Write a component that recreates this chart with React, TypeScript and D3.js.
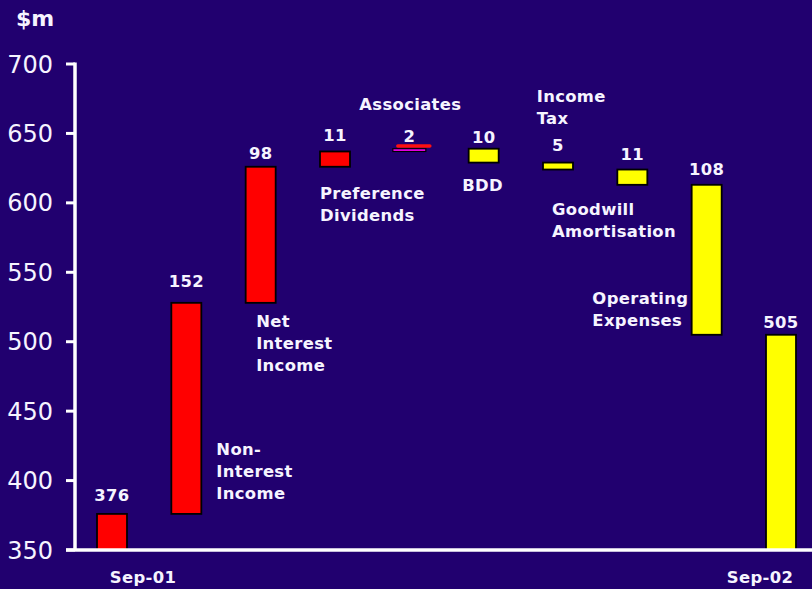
import React from "react";
import * as d3 from "d3";

const categories = [
  "Sep-01",
  "Non-Interest Income",
  "Net Interest Income",
  "Preference Dividends",
  "Associates",
  "BDD",
  "Income Tax",
  "Goodwill Amortisation",
  "Operating Expenses",
  "Sep-02",
];
// first and last are totals, the rest are signed changes
const changes = [376, 152, 98, 11, 2, -10, -5, -11, -108, 505];
const isTotal = [true, false, false, false, false, false, false, false, false, true];
const valueLabels = ["376", "152", "98", "11", "2", "10", "5", "11", "108", "505"];
const barColors = ["#ff0000", "#ff0000", "#ff0000", "#ff0000", "#ff00ff", "#ffff00", "#ffff00", "#ffff00", "#ffff00", "#ffff00"];
const yTicks = [350, 400, 450, 500, 550, 600, 650, 700];
const xTickLabels = ["Sep-01", "Sep-02"];

// annotation layout: category anchor, text lines, offset in px, baseline in data units
const annotations = [
  { cat: "Non-Interest Income", lines: ["Non-", "Interest", "Income"], dx: 30, yVal: 418.4, anchor: "start" },
  { cat: "Net Interest Income", lines: ["Net", "Interest", "Income"], dx: -4.5, yVal: 510.8, anchor: "start" },
  { cat: "Preference Dividends", lines: ["Preference", "Dividends"], dx: -15, yVal: 602.8, anchor: "start" },
  { cat: "Associates", lines: ["Associates"], dx: 1, yVal: 666.9, anchor: "middle" },
  { cat: "BDD", lines: ["BDD"], dx: -1, yVal: 608.8, anchor: "middle" },
  { cat: "Income Tax", lines: ["Income", "Tax"], dx: -21.3, yVal: 672.9, anchor: "start" },
  { cat: "Goodwill Amortisation", lines: ["Goodwill", "Amortisation"], dx: -80.3, yVal: 591.3, anchor: "start" },
  { cat: "Operating Expenses", lines: ["Operating", "Expenses"], dx: -114.3, yVal: 527.2, anchor: "start" },
];
const valueLabelGap = [12.5, 15.5, 8, 10, 6.5, 6, 12, 9.5, 10, 7];
const xLabelDx = [31, -21];

const W = 812;
const H = 589;
const BG = "#21006f";
const TXT = "#f6f4ff";
const FONT = "'DejaVu Sans', Verdana, sans-serif";
const LBL = 16.4;
const LS = 0.35;

export default function App() {
  const y = d3.scaleLinear().domain([350, 700]).range([550, 64]);
  const x = d3.scalePoint<string>().domain(categories).range([112, 781]);
  const bw = 30;

  let running = 0;
  const bars = categories.map((c, i) => {
    let lo: number, hi: number;
    if (isTotal[i]) {
      lo = 350;
      hi = changes[i];
      running = changes[i];
    } else {
      const start = running;
      running = running + changes[i];
      lo = Math.min(start, running);
      hi = Math.max(start, running);
    }
    return { c, i, lo, hi };
  });

  const axisX = 75;

  return (
    <>
      <style>{`body{margin:0;background:${BG}}`}</style>
      <svg width={W} height={H} style={{ display: "block", background: BG }} fontFamily={FONT}>
        <rect x={0} y={0} width={W} height={H} fill={BG} />
        <text x={16} y={26} fill={TXT} fontSize={22} fontWeight="bold">$m</text>

        {/* bars */}
        {bars.map((b) => {
          const cx = x(b.c)!;
          const isAssoc = b.c === "Associates";
          const w = isAssoc ? 33 : bw;
          return (
            <g key={b.c}>
              <rect
                x={cx - w / 2}
                y={y(b.hi)}
                width={w}
                height={Math.max(1, y(b.lo) - y(b.hi))}
                fill={barColors[b.i]}
                stroke="#000"
                strokeWidth={isAssoc ? 1.2 : 1.8}
              />
              {isAssoc && (
                <line
                  x1={cx - w / 2 + 5}
                  x2={cx + w / 2 + 4}
                  y1={y(b.hi + 2)}
                  y2={y(b.hi + 2)}
                  stroke="#ff1010"
                  strokeWidth={3.5}
                  strokeLinecap="round"
                />
              )}
              <text
                x={cx}
                y={y(b.hi) - valueLabelGap[b.i]}
                fill={TXT}
                fontSize={LBL}
                fontWeight="bold"
                letterSpacing={LS}
                textAnchor="middle"
              >
                {valueLabels[b.i]}
              </text>
            </g>
          );
        })}

        {/* annotations */}
        {annotations.map((a) => (
          <text
            key={a.cat}
            x={x(a.cat)! + a.dx}
            y={y(a.yVal)}
            fill={TXT}
            fontSize={LBL}
            fontWeight="bold"
            letterSpacing={LS}
            textAnchor={a.anchor as any}
          >
            {a.lines.map((l, k) => (
              <tspan key={k} x={x(a.cat)! + a.dx} dy={k === 0 ? 0 : 22}>
                {l}
              </tspan>
            ))}
          </text>
        ))}

        {/* axes */}
        {yTicks.map((t) => (
          <g key={t}>
            <line x1={axisX - 9} x2={axisX} y1={y(t)} y2={y(t)} stroke="#fff" strokeWidth={3} />
            <text x={53} y={y(t)} dy="0.36em" fill={TXT} fontSize={24} textAnchor="end">
              {t}
            </text>
          </g>
        ))}
        <line x1={axisX} x2={axisX} y1={y(700) - 1.5} y2={y(350)} stroke="#fff" strokeWidth={3.5} />
        <line x1={axisX - 9} x2={W} y1={y(350)} y2={y(350)} stroke="#fff" strokeWidth={3.5} />

        {xTickLabels.map((l, k) => (
          <text
            key={l}
            x={x(l)! + xLabelDx[k]}
            y={583}
            fill={TXT}
            fontSize={LBL}
            fontWeight="bold"
            letterSpacing={LS}
            textAnchor="middle"
          >
            {l}
          </text>
        ))}
      </svg>
    </>
  );
}
